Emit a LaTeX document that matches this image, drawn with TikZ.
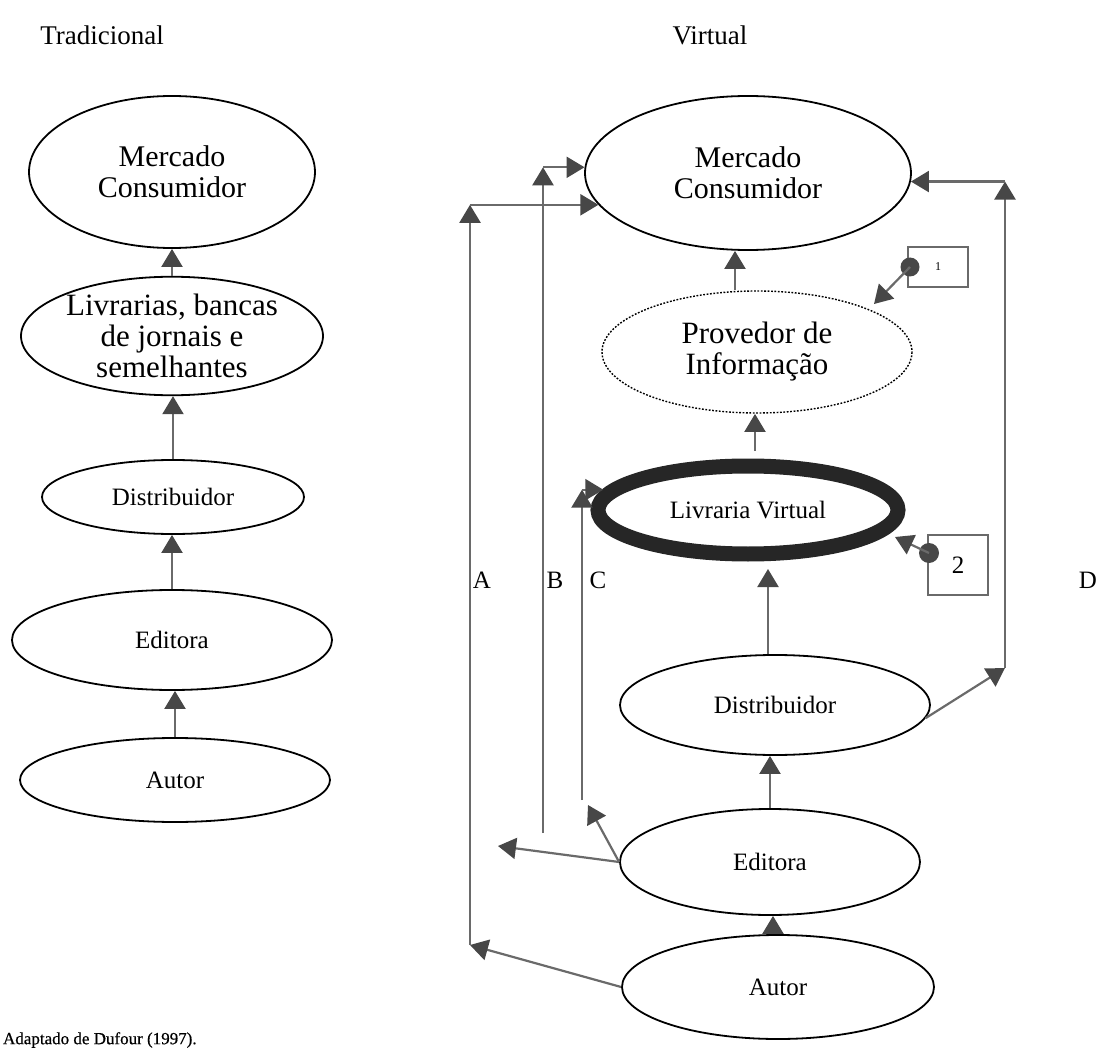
\documentclass[tikz,border=0pt]{standalone}
\usepackage{fontspec}
\setmainfont{Liberation Serif}
\usetikzlibrary{shapes.geometric,arrows.meta,calc}
\definecolor{linegray}{HTML}{6A6A6A}
\definecolor{headgray}{HTML}{474747}
\definecolor{ringgray}{HTML}{262626}
\tikzset{
  oval/.style={ellipse, draw=black, line width=0.9pt, inner sep=0pt, align=center},
  bigtext/.style={font=\fontsize{15.5}{15.5}\selectfont},
  smalltext/.style={font=\fontsize{12.5}{14}\selectfont},
  titletext/.style={font=\fontsize{13.5}{15}\selectfont},
  conn/.style={draw=linegray, line width=1.1pt},
  arr/.style={conn, -{Triangle[length=9pt,width=10.5pt,color=headgray]}},
  markbox/.style={draw=linegray, line width=1pt, inner sep=0pt},
  markdot/.style={circle, fill=headgray, inner sep=0pt},
}
\begin{document}
\begin{tikzpicture}[x=0.5pt,y=-0.5pt]
\useasboundingbox (0,0) rectangle (1110,1054);

% titles
\node[titletext] (tTrad) at (102,35) {Tradicional};
\node[titletext] (tVirt) at (710,35) {Virtual};

% traditional chain
\node[oval,font=\fontsize{15}{15.5}\selectfont,minimum width=143pt,minimum height=76pt] (mercL) at (172,172) {Mercado\\Consumidor};
\node[oval,bigtext,minimum width=151pt,minimum height=58pt] (livL) at (172,336) {Livrarias, bancas\\de jornais e\\semelhantes};
\node[oval,smalltext,minimum width=131pt,minimum height=37pt] (distL) at (173,497) {Distribuidor};
\node[oval,smalltext,minimum width=160pt,minimum height=50pt] (editL) at (172,640) {Editora};
\node[oval,smalltext,minimum width=155pt,minimum height=42pt] (autL) at (175,780) {Autor};

\draw[arr] (livL.north) -- (livL.north |- mercL.south);
\draw[arr] (distL.north) -- (distL.north |- livL.south);
\draw[arr] (editL.north) -- (editL.north |- distL.south);
\draw[arr] (autL.north) -- (autL.north |- editL.south);

% virtual chain
\node[oval,font=\fontsize{15}{15.5}\selectfont,minimum width=163pt,minimum height=77pt] (mercR) at (748,173) {Mercado\\Consumidor};
\node[oval,bigtext,draw=none,minimum width=155pt,minimum height=61pt] (provR) at (757,352) {Provedor de\\Informação};
\draw[line width=0.7pt, dash pattern=on 0.9pt off 0.8pt] (provR.center) ellipse [x radius=155, y radius=61];
\node[oval,smalltext,draw=ringgray,line width=7.5pt,minimum width=150pt,minimum height=44pt] (livR) at (748,510) {Livraria Virtual};
\node[oval,smalltext,minimum width=155pt,minimum height=50pt] (distR) at (775,705) {Distribuidor};
\node[oval,smalltext,minimum width=150pt,minimum height=53pt] (editR) at (770,862) {Editora};
\node[oval,smalltext,minimum width=156pt,minimum height=52pt] (autR) at (778,987) {Autor};

\coordinate (livTop) at ([yshift=3.75pt]livR.north);
\coordinate (livBot) at ([yshift=-3.75pt]livR.south);
\coordinate (xa) at (735,0);
\coordinate (xb) at (755,0);
\coordinate (xc) at (768,0);
\coordinate (xd) at (770,0);
\coordinate (xe) at (773,0);
\draw[arr] (provR.north -| xa) -- (mercR.south -| xa);
\draw[arr] (livTop -| xb) -- (provR.south -| xb);
\draw[arr] (distR.north -| xc) -- (livBot -| xc);
\draw[arr] (editR.north -| xd) -- (distR.south -| xd);
\draw[arr] (autR.north -| xe) -- (editR.south -| xe);

% route A: author straight to the market
\coordinate (Abot) at (470,945);
\coordinate (Atop) at (Abot |- mercR.192);
\draw[arr] (autR.west) -- (Abot);
\draw[arr] (Abot) -- (Atop);
\draw[arr] (Atop) -- (mercR.192);

% route B: publisher to the market
\coordinate (Bbot) at (543,833);
\coordinate (Btip) at (498,846);
\coordinate (Btop) at (Bbot |- mercR.178);
\draw[arr] (editR.west) -- (Btip);
\draw[arr] (Bbot) -- (Btop);
\draw[arr] (Btop) -- (mercR.178);

% route C: publisher to the virtual bookshop
\coordinate (Cbot) at (582,800);
\coordinate (Ctip) at (588,805);
\coordinate (Ctop) at (Cbot |- livR.172);
\draw[arr] (editR.west) -- (Ctip);
\draw[arr] (Cbot) -- (Ctop);
\draw[arr] (Ctop) -- (livR.172);

% route D: distributor to the market
\coordinate (Dbot) at (1005,668);
\coordinate (Dtop) at (Dbot |- mercR.357.5);
\draw[arr] (distR.355) -- (Dbot);
\draw[arr] (Dbot) -- (Dtop);
\draw[arr] (Dtop) -- (mercR.357.5);

% route labels
\node[smalltext] (lA) at (482,580) {A};
\node[smalltext] (lB) at (555,580) {B};
\node[smalltext] (lC) at (598,580) {C};
\node[smalltext] (lD) at (1088,580) {D};

% numbered markers
\node[markbox,minimum width=30pt,minimum height=20pt,font=\fontsize{6}{7}\selectfont] (box1) at (938,267) {1};
\node[markdot,minimum size=9.5pt] (dot1) at (910,267) {};
\coordinate (p1) at (874,304);
\draw[arr] (dot1.center) -- (p1);

\node[markbox,minimum width=30pt,minimum height=30pt,smalltext] (box2) at (958,565) {2};
\node[markdot,minimum size=10pt] (dot2) at (929,553) {};
\coordinate (p2) at (895,537);
\draw[arr] (dot2.center) -- (p2);

% source note
\node[anchor=west,font=\fontsize{8.5}{10}\selectfont\addfontfeature{FakeBold=0.6}] (cap) at (-4,1040) {Adaptado de Dufour (1997).};
\end{tikzpicture}
\end{document}
